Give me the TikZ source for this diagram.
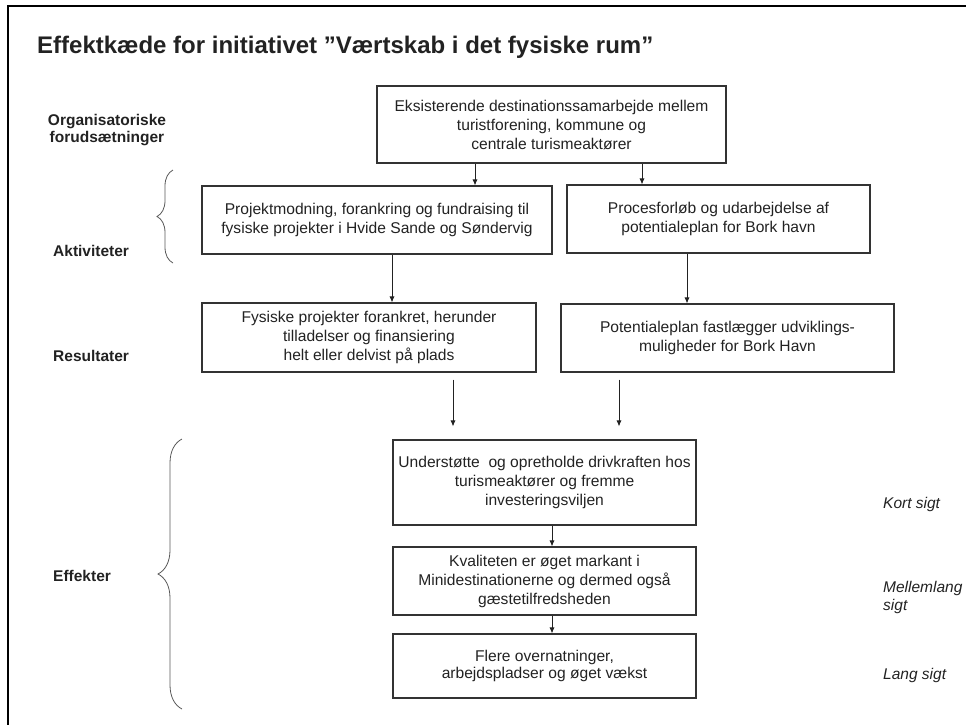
\documentclass[tikz,border=0pt]{standalone}
\usepackage{fontspec}
\setmainfont{Liberation Sans}
\usetikzlibrary{arrows.meta,decorations.pathreplacing}
\definecolor{ink}{HTML}{222222}
\definecolor{bord}{HTML}{333333}
\begin{document}
\begin{tikzpicture}[x=1pt,y=1pt,
  box/.style={draw=bord,line width=1.1pt,inner sep=0pt,align=center,text=ink,
    font=\fontsize{15.6}{19}\selectfont},
  lab/.style={inner sep=0pt,text=ink,font=\fontsize{15.5}{17}\selectfont\bfseries},
  side/.style={inner sep=0pt,text=ink,align=left,anchor=west,font=\fontsize{15.5}{18}\selectfont\itshape},
  arr/.style={draw=ink,line width=0.8pt,-{Latex[length=6pt,width=5pt]}},
  brc/.style={draw=black!65,line width=0.8pt,decorate}]
\useasboundingbox (0,0) rectangle (966,-724);
% frame
\draw[line width=2pt] (8,-730) -- (8,-5.5) -- (972,-5.5);
% title
\node[anchor=base west,inner sep=0pt,font=\fontsize{24}{28}\selectfont\bfseries,text=ink] (title) at (37,-53)
  {Effektkæde for initiativet ”Værtskab i det fysiske rum”};
% left labels
\node[lab,align=center] (org) at (107,-130.5) {Organisatoriske\\forudsætninger};
\node[lab,anchor=west] (akt) at (53,-251) {Aktiviteter};
\node[lab,anchor=west] (res) at (53,-356) {Resultater};
\node[lab,anchor=west] (eff) at (53,-576) {Effekter};
% right labels
\node[side] (kort) at (883,-504) {Kort sigt};
\node[side] (mell) at (883,-597) {Mellemlang\\sigt};
\node[side] (lang) at (883,-675) {Lang sigt};
% boxes
\node[box,minimum width=349pt,minimum height=77pt] (top) at (551.5,-124.5)
  {Eksisterende destinationssamarbejde mellem\\turistforening, kommune og\\centrale turismeaktører};
\node[box,minimum width=350pt,minimum height=68pt] (lact) at (377,-220)
  {Projektmodning, forankring og fundraising til\\fysiske projekter i Hvide Sande og Søndervig};
\node[box,minimum width=303pt,minimum height=68pt] (ract) at (718.5,-219)
  {Procesforløb og udarbejdelse af\\potentialeplan for Bork havn};
\node[box,minimum width=334pt,minimum height=69pt] (lres) at (369,-337.5)
  {Fysiske projekter forankret, herunder\\tilladelser og finansiering\\helt eller delvist på plads};
\node[box,minimum width=333pt,minimum height=68pt] (rres) at (727.5,-338)
  {Potentialeplan fastlægger udviklings-\\muligheder for Bork Havn};
\node[box,minimum width=303pt,minimum height=85pt] (e1) at (544.5,-482.5)
  {Understøtte\ \ og opretholde drivkraften hos\\turismeaktører og fremme\\investeringsviljen};
\node[box,minimum width=303pt,minimum height=68pt] (e2) at (544.5,-581)
  {Kvaliteten er øget markant i\\Minidestinationerne og dermed også\\gæstetilfredsheden};
\node[box,minimum width=303pt,minimum height=64pt] (e3) at (544.5,-666)
  {\raisebox{-5pt}{\begin{tabular}{@{}c@{}}Flere overnatninger,\\[-2.5pt]arbejdspladser og øget vækst\end{tabular}}};
% arrow x positions
\coordinate (xa) at (475,0);
\coordinate (xb) at (642,0);
\coordinate (xc) at (392,0);
\coordinate (xd) at (687,0);
\coordinate (xe) at (453,0);
\coordinate (xf) at (619,0);
\coordinate (xg) at (552,0);
\draw[arr] (top.south -| xa) -- (lact.north -| xa);
\draw[arr] (top.south -| xb) -- (ract.north -| xb);
\draw[arr] (lact.south -| xc) -- (lres.north -| xc);
\draw[arr] (ract.south -| xd) -- (rres.north -| xd);
\draw[arr,shorten <=7pt,shorten >=13pt] (lres.south -| xe) -- (e1.north -| xe);
\draw[arr,shorten <=7pt,shorten >=13pt] (rres.south -| xf) -- (e1.north -| xf);
\draw[arr] (e1.south -| xg) -- (e2.north -| xg);
\draw[arr] (e2.south -| xg) -- (e3.north -| xg);
% braces
\coordinate (b1a) at (173,-263);
\coordinate (b1b) at (173,-170);
\coordinate (b2a) at (182,-709);
\coordinate (b2b) at (182,-439);
\draw[brc,decoration={brace,amplitude=16pt,aspect=0.5}] (b1a) -- (b1b);
\draw[brc,decoration={brace,amplitude=24pt,aspect=0.5}] (b2a) -- (b2b);
\end{tikzpicture}
\end{document}
